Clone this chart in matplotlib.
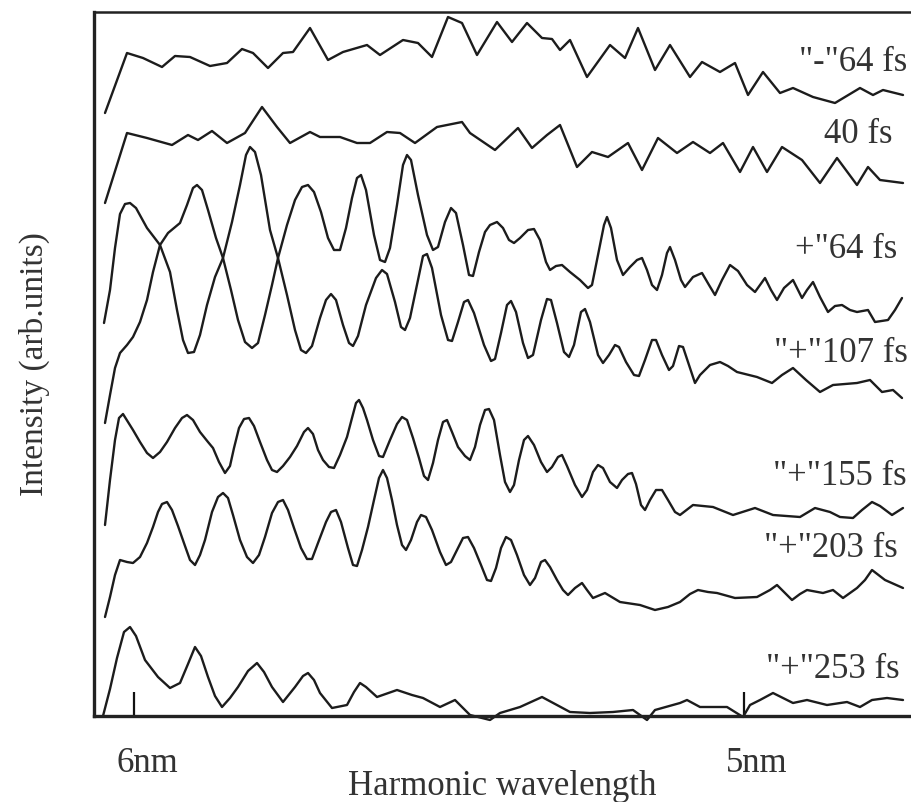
import matplotlib
matplotlib.use("Agg")
import matplotlib.pyplot as plt
import matplotlib.transforms as mtransforms

plt.rcParams['font.family'] = ['Liberation Serif', 'DejaVu Serif']

# Detector channel calibration: 6 nm at channel 134, 5 nm at channel 744
tick_channels = [134, 744]
tick_labels = ['6nm', '5nm']

# Each trace: detector channel positions and stacked intensity (arb. units)
minus64_x = [105,127,143,162,175,190,210,227,242,253,268,283,293,310,328,343,367,380,403,418,432,448,462,477,497,512,527,542,552,560,570,587,610,625,638,655,670,690,702,720,735,748,763,780,793,813,835,860,873,883,903]
minus64_y = [603,663,658,649,660,659,650,653,667,663,648,663,664,688,656,664,671,661,676,673,659,699,693,661,694,674,693,678,677,666,676,639,671,658,688,646,671,639,654,644,653,621,644,623,628,619,613,628,621,626,621]

fs40_x = [105,127,147,172,188,198,212,227,245,262,277,290,310,320,340,357,370,387,400,415,437,462,470,495,518,532,547,560,577,592,608,628,642,658,677,693,710,723,740,753,767,782,802,820,837,857,868,880,903]
fs40_y = [513,583,578,571,581,576,585,573,583,609,589,573,584,579,579,573,573,584,583,573,589,594,583,566,588,568,581,591,549,564,559,573,546,578,563,574,563,573,544,569,544,569,556,533,558,531,549,536,533]

plus64_x = [105,110,115,120,127,133,140,147,153,160,168,180,187,193,197,202,208,216,223,231,
            238,245,252,258,265,272,278,287,295,302,308,314,321,328,334,340,346,352,357,361,
            366,374,380,385,390,397,403,407,411,418,427,433,438,445,451,456,463,469,473,479,
            485,490,497,503,509,514,520,528,534,540,546,550,556,562,570,580,588,592,598,604,
            607,611,617,623,630,637,642,647,652,657,662,667,670,675,681,685,693,702,709,715,
            722,730,738,747,755,760,765,771,777,784,793,798,802,807,813,820,828,835,842,850,
            857,868,875,888,895,902]
plus64_y = [293,321,348,363,371,379,394,416,444,471,483,493,511,528,531,526,506,478,458,426,
            396,374,368,373,401,431,458,491,516,529,531,524,504,478,466,466,488,518,538,541,
            526,481,456,454,468,511,551,561,556,521,481,466,469,494,508,503,471,441,440,464,
            484,491,494,488,476,473,478,486,487,476,454,446,450,451,444,436,428,431,461,491,
            499,488,456,441,449,456,458,446,431,426,441,463,469,456,436,429,439,443,431,421,
            436,451,445,431,424,431,438,426,416,428,436,426,418,426,434,419,404,410,411,406,
            404,406,394,396,406,418]

plus107_x = [104,110,115,120,125,130,136,147,160,170,177,183,188,194,200,207,215,223,232,240,
             246,250,255,261,270,278,287,295,301,306,312,320,326,331,336,343,349,353,358,366,
             376,382,387,395,401,405,410,418,423,427,432,441,448,452,458,464,468,474,484,491,
             495,501,507,511,516,523,528,533,541,547,551,557,564,569,574,581,585,590,598,603,
             609,615,619,626,634,639,645,652,656,662,669,673,679,683,689,695,700,710,720,728,
             737,757,772,782,793,806,820,833,845,857,870,882,893,902]
plus107_y = [393,426,468,502,512,513,508,488,471,444,406,376,363,364,381,411,439,458,494,531,
             561,569,564,541,486,458,421,386,366,363,370,398,416,422,416,391,373,370,380,411,
             438,446,442,414,389,386,398,436,460,462,448,401,376,375,394,414,416,403,371,355,
             357,383,411,415,404,373,358,361,396,417,416,393,364,359,371,404,407,394,361,353,
             361,371,369,354,341,340,356,376,376,361,346,350,370,369,351,333,341,351,354,350,
             344,339,333,341,348,336,324,331,332,333,336,324,326,318]

plus155_x = [105,110,115,119,123,128,133,140,147,153,160,167,175,182,187,193,200,208,213,219,
             225,230,234,239,244,249,254,260,267,272,277,283,290,297,304,308,313,318,323,329,
             334,340,347,352,356,359,363,367,373,379,383,390,397,402,407,413,419,424,428,433,
             438,443,447,452,458,465,470,475,480,485,489,494,500,505,510,514,519,524,528,534,
             541,547,552,558,562,567,575,582,587,593,598,603,610,617,622,628,632,636,641,645,
             650,656,662,668,675,680,693,713,733,755,773,800,815,830,840,853,862,872,880,892,
             903]
plus155_y = [191,236,276,298,302,294,286,274,263,258,264,274,288,298,301,296,284,274,268,254,
             243,250,268,288,297,298,290,274,256,246,244,250,259,270,284,288,282,266,256,249,
             248,261,279,298,313,316,308,296,276,260,259,276,292,299,296,278,258,240,236,253,
             276,294,296,284,269,260,256,269,291,306,307,296,261,234,224,231,256,276,280,271,
             254,244,249,259,261,250,231,219,226,244,251,248,234,228,236,242,243,232,211,206,
             216,226,226,216,204,201,211,209,201,208,201,199,208,204,199,198,206,214,210,201,
             208]

plus203_x = [105,110,115,120,127,133,140,147,153,158,162,167,172,178,185,190,195,200,205,212,
             218,223,228,233,240,247,253,259,265,272,278,283,288,294,301,307,312,318,326,331,
             336,341,348,353,357,362,368,374,379,383,387,392,397,402,406,411,417,421,426,432,
             440,446,451,457,463,468,474,481,487,491,496,501,506,511,517,524,530,535,541,545,
             550,557,563,568,575,582,587,593,605,620,640,655,668,680,690,698,708,717,735,757,
             770,777,785,792,800,807,823,833,843,857,865,872,885,903]
plus203_y = [99,119,141,156,154,153,159,173,189,204,212,214,206,190,170,156,151,161,176,204,
             219,223,218,201,176,159,153,161,179,203,214,216,206,188,168,157,157,173,194,204,
             206,194,168,151,150,166,189,216,238,246,238,216,191,171,166,176,194,201,199,186,
             164,151,154,166,178,179,168,151,136,135,148,168,179,176,161,141,131,138,154,156,
             149,136,126,121,128,133,126,118,123,114,111,106,109,114,122,126,124,123,118,119,
             126,131,123,116,122,126,123,126,118,128,136,146,136,128]

plus253_x = [103,110,117,124,130,136,145,158,170,180,188,195,201,208,215,222,230,238,248,257,
             264,272,283,295,303,308,314,320,332,347,354,360,366,377,397,412,423,440,455,470,
             490,500,520,542,570,590,613,633,647,655,680,687,700,727,743,750,760,773,793,807,
             827,847,860,872,887,903]
plus253_y = [0,27,58,84,89,80,56,39,28,33,52,69,60,39,20,9,18,29,45,53,
             44,29,14,29,40,43,36,23,8,11,24,33,29,19,26,21,18,9,16,1,
             -4,3,9,19,4,3,4,6,-4,6,13,16,9,9,-1,11,16,23,13,16,
             11,14,9,16,18,16]

series = [
    (minus64_x, minus64_y, '"-"64 fs', 907, 645),
    (fs40_x, fs40_y, '40 fs', 893, 573),
    (plus64_x, plus64_y, '+"64 fs', 897, 458),
    (plus107_x, plus107_y, '"+"107 fs', 908, 354),
    (plus155_x, plus155_y, '"+"155 fs', 907, 231),
    (plus203_x, plus203_y, '"+"203 fs', 898, 159),
    (plus253_x, plus253_y, '"+"253 fs', 900, 38),
]

W, H = 911, 802
fig = plt.figure(figsize=(W / 100, H / 100), dpi=100)
ax = fig.add_axes([94 / W, 86 / H, (W - 94) / W, 704 / H])

line_color = '#1c1c1c'
text_color = '#333333'
for xs, ys, label, lx, ly in series:
    ax.plot(xs, ys, color=line_color, lw=1.7, clip_on=False,
            solid_joinstyle='round', solid_capstyle='round')
    ax.text(lx, ly, label, ha='right', va='baseline', fontsize=25, color=text_color)

ax.set_xlim(94, 911)
ax.set_ylim(0, 704)

ax.spines['right'].set_visible(False)
ax.spines['left'].set_linewidth(2.4)
ax.spines['bottom'].set_linewidth(2.4)
ax.spines['top'].set_linewidth(1.8)
for s in ax.spines.values():
    s.set_color('#222222')

ax.set_yticks([])
ax.set_xticks(tick_channels)
ax.set_xticklabels(tick_labels)
ax.set_xticks(tick_channels, minor=True)
ax.tick_params(axis='x', which='major', direction='in', length=17, width=1.6,
               color='#111111', labelsize=25, labelcolor=text_color, pad=22)
ax.tick_params(axis='x', which='minor', direction='out', length=6.5, width=1.6,
               color='#111111')
offset = mtransforms.ScaledTranslation(13 / 100, 0, fig.dpi_scale_trans)
for lab in ax.get_xticklabels():
    lab.set_transform(lab.get_transform() + offset)

ax.set_xlabel('Harmonic wavelength', fontsize=25, color=text_color, labelpad=-7)
ax.set_ylabel('Intensity (arb.units)', fontsize=24, color=text_color, labelpad=32)

fig.savefig('out.png', dpi=100)
